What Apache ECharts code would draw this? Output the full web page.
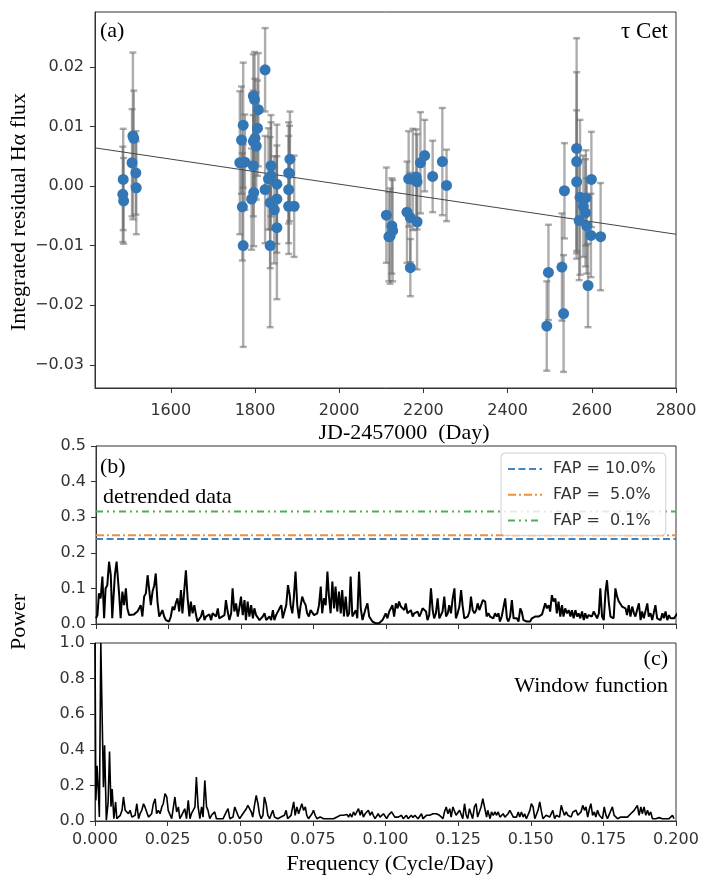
<!DOCTYPE html>
<html>
<head>
<meta charset="utf-8">
<script src="https://cdn.jsdelivr.net/npm/echarts@6/dist/echarts.min.js"></script>
<style>
html,body{margin:0;padding:0;background:#fff;}
#chart{width:712px;height:884px;}
</style>
</head>
<body>
<div id="chart"></div>
<script>
// ---------- Panel (a): integrated residual H-alpha flux ----------
const jd = [
  1486,1488,1487,1508,1510,1512,1517,1518,
  1764,1768,1772,1770,1772,1776,1796,1799,1808,1806,1800,1796,1803,1796,1797,1792,
  1824,1824,1836,1836,1838,1838,1832,1852,1852,1852,1846,1880,1883,1880,1880,1893,1882,
  2112,2121,2125,2118,2127,2161,2169,2185,2169,2165,2175,2185,2183,2193,2203,2222,2245,2255,
  2493,2497,2529,2533,2535,2564,2564,2564,2572,2586,2570,2580,2585,2588,2591,2598,2599,2621
];
const flux = [
  -0.0014,-0.0025,0.0011,0.0039,0.0084,0.0080,0.0022,-0.0003,
  0.0039,0.0077,0.0102,-0.0035,-0.0100,0.0040,0.0151,0.0145,0.0128,0.0097,0.0080,0.0075,0.0067,0.0034,-0.0011,-0.0022,
  0.0195,-0.0006,-0.0028,-0.0100,0.0034,0.0017,0.0012,0.0003,-0.0022,-0.0070,-0.0040,0.0022,0.0045,-0.0006,-0.0034,-0.0034,0.0021,
  -0.0049,-0.0084,-0.0067,-0.0085,-0.0075,-0.0044,-0.0053,-0.0060,-0.0137,0.0012,0.0011,0.0007,0.0015,0.0039,0.0051,0.0016,0.0041,0.0001,
  -0.0235,-0.0145,-0.0136,-0.0214,-0.0008,0.0063,0.0041,0.0007,-0.0019,-0.0020,-0.0058,-0.0034,-0.0045,-0.0067,-0.0167,-0.0083,0.0011,-0.0085
];
const fluxErr = [
  0.0080,0.0072,0.0085,0.0090,0.0140,0.0080,0.0070,0.0078,
  0.0120,0.0090,0.0105,0.0090,0.0170,0.0080,0.0070,0.0080,0.0095,0.0080,0.0100,0.0085,0.0090,0.0085,0.0090,0.0085,
  0.0070,0.0090,0.0110,0.0137,0.0085,0.0090,0.0085,0.0100,0.0090,0.0120,0.0090,0.0085,0.0080,0.0090,0.0080,0.0085,0.0080,
  0.0080,0.0080,0.0080,0.0075,0.0085,0.0085,0.0075,0.0080,0.0048,0.0080,0.0085,0.0080,0.0080,0.0085,0.0060,0.0060,0.0090,0.0060,
  0.0075,0.0080,0.0090,0.0098,0.0080,0.0185,0.0150,0.0120,0.0130,0.0080,0.0100,0.0085,0.0090,0.0080,0.0070,0.0070,0.0080,0.0090
];
const trendJD = [1420, 2800];
const trendFlux = [0.0064, -0.0081];
const jdTicks = [1600, 1800, 2000, 2200, 2400, 2600, 2800];
const fluxTicks = [-0.03, -0.02, -0.01, 0.00, 0.01, 0.02];

// ---------- Panel (b): periodogram of detrended data ----------
const periodogram = [
[0.0000,0.016],[0.0005,0.025],[0.0010,0.086],[0.0016,0.072],[0.0022,0.133],[0.0028,0.016],[0.0033,0.100],[0.0039,0.109],
[0.0045,0.175],[0.0051,0.137],[0.0056,0.016],[0.0065,0.137],[0.0071,0.175],[0.0080,0.081],[0.0085,0.016],[0.0091,0.091],
[0.0097,0.053],[0.0103,0.100],[0.0108,0.044],[0.0114,0.025],[0.0120,0.025],[0.0131,0.027],[0.0137,0.023],[0.0143,0.035],
[0.0149,0.044],[0.0154,0.053],[0.0160,0.021],[0.0166,0.077],[0.0172,0.086],[0.0178,0.137],[0.0183,0.100],[0.0189,0.053],
[0.0195,0.091],[0.0201,0.109],[0.0206,0.142],[0.0212,0.063],[0.0218,0.021],[0.0224,0.030],[0.0229,0.039],[0.0235,0.021],
[0.0241,0.011],[0.0247,0.016],[0.0252,0.007],[0.0258,0.021],[0.0264,0.049],[0.0270,0.039],[0.0275,0.058],[0.0281,0.072],
[0.0287,0.035],[0.0293,0.095],[0.0298,0.030],[0.0304,0.091],[0.0310,0.151],[0.0316,0.072],[0.0322,0.021],[0.0327,0.063],
[0.0333,0.030],[0.0339,0.053],[0.0345,0.025],[0.0350,0.007],[0.0356,0.011],[0.0362,0.021],[0.0368,0.039],[0.0374,0.011],
[0.0379,0.021],[0.0385,0.016],[0.0391,0.027],[0.0397,0.011],[0.0402,0.030],[0.0408,0.025],[0.0414,0.021],[0.0420,0.044],
[0.0425,0.016],[0.0431,0.011],[0.0443,0.025],[0.0448,0.067],[0.0454,0.035],[0.0460,0.011],[0.0466,0.030],[0.0471,0.100],
[0.0477,0.035],[0.0483,0.058],[0.0489,0.021],[0.0494,0.044],[0.0500,0.077],[0.0506,0.025],[0.0512,0.067],[0.0517,0.011],
[0.0523,0.063],[0.0529,0.021],[0.0535,0.053],[0.0541,0.016],[0.0546,0.044],[0.0552,0.025],[0.0558,0.021],[0.0564,0.011],
[0.0569,0.016],[0.0575,0.021],[0.0581,0.030],[0.0587,0.011],[0.0592,0.016],[0.0598,0.021],[0.0604,0.011],[0.0610,0.039],
[0.0615,0.011],[0.0621,0.025],[0.0627,0.030],[0.0633,0.044],[0.0639,0.053],[0.0644,0.016],[0.0650,0.035],[0.0656,0.053],
[0.0662,0.109],[0.0668,0.081],
[0.0671,0.053],[0.0677,0.030],[0.0682,0.072],[0.0688,0.147],[0.0694,0.053],[0.0700,0.016],[0.0705,0.049],[0.0711,0.077],
[0.0717,0.063],[0.0723,0.053],[0.0728,0.030],[0.0734,0.021],[0.0740,0.039],[0.0746,0.035],[0.0752,0.025],[0.0757,0.021],
[0.0763,0.030],[0.0769,0.053],[0.0775,0.105],[0.0780,0.030],[0.0786,0.072],[0.0792,0.053],[0.0798,0.147],[0.0803,0.081],
[0.0809,0.030],[0.0815,0.119],[0.0821,0.044],[0.0826,0.105],[0.0832,0.035],[0.0838,0.091],[0.0844,0.030],[0.0849,0.095],
[0.0855,0.021],[0.0861,0.077],[0.0867,0.021],[0.0873,0.030],[0.0878,0.133],[0.0884,0.021],[0.0890,0.030],[0.0896,0.039],
[0.0901,0.016],[0.0907,0.147],[0.0913,0.044],[0.0919,0.011],[0.0924,0.016],[0.0930,0.044],[0.0936,0.058],[0.0942,0.021],
[0.0947,0.025],[0.0953,0.007],[0.0959,0.002],[0.0965,0.002],[0.0971,0.002],[0.0976,0.002],[0.0982,0.002],[0.0988,0.011],
[0.0994,0.021],[0.0999,0.030],[0.1005,0.016],[0.1011,0.035],[0.1017,0.044],[0.1022,0.053],[0.1028,0.021],[0.1034,0.058],
[0.1040,0.044],[0.1045,0.063],[0.1051,0.049],[0.1057,0.053],[0.1063,0.039],[0.1068,0.058],[0.1074,0.030],[0.1080,0.025],
[0.1086,0.039],[0.1092,0.021],[0.1097,0.030],[0.1103,0.025],[0.1109,0.035],[0.1115,0.021],[0.1120,0.030],[0.1126,0.044],
[0.1132,0.049],[0.1138,0.035],[0.1143,0.011],[0.1149,0.025],[0.1155,0.100],[0.1161,0.039],[0.1166,0.016],[0.1172,0.030],
[0.1178,0.072],[0.1184,0.016],[0.1190,0.021],[0.1195,0.035],[0.1201,0.077],[0.1207,0.021],[0.1213,0.030],[0.1218,0.053],
[0.1224,0.030],[0.1230,0.072],[0.1236,0.100],[0.1241,0.016],[0.1247,0.030],[0.1253,0.049],[0.1259,0.095],[0.1264,0.053],
[0.1270,0.016],[0.1276,0.011],[0.1282,0.021],[0.1288,0.035],[0.1293,0.077],[0.1299,0.039],[0.1305,0.030],[0.1311,0.039],
[0.1316,0.058],[0.1322,0.039],[0.1328,0.035],[0.1334,0.067],
[0.1342,0.063],[0.1347,0.021],[0.1353,0.030],[0.1359,0.021],[0.1365,0.025],[0.1370,0.016],[0.1376,0.030],[0.1382,0.021],
[0.1388,0.030],[0.1393,0.007],[0.1399,0.021],[0.1405,0.016],[0.1411,0.072],[0.1417,0.016],[0.1422,0.007],[0.1428,0.021],
[0.1434,0.067],[0.1440,0.016],[0.1445,0.011],[0.1451,0.016],[0.1457,0.007],[0.1463,0.044],[0.1468,0.035],[0.1474,0.011],
[0.1480,0.007],[0.1486,0.007],[0.1491,0.011],[0.1497,0.007],[0.1503,0.016],[0.1509,0.011],[0.1514,0.021],[0.1520,0.021],
[0.1526,0.021],[0.1532,0.025],[0.1538,0.027],[0.1543,0.030],[0.1549,0.058],[0.1555,0.044],[0.1561,0.053],[0.1566,0.035],
[0.1572,0.081],[0.1578,0.063],[0.1584,0.072],[0.1589,0.030],[0.1595,0.063],[0.1601,0.021],[0.1607,0.053],[0.1612,0.021],
[0.1618,0.044],[0.1624,0.030],[0.1630,0.039],[0.1636,0.021],[0.1641,0.039],[0.1647,0.016],[0.1653,0.039],[0.1659,0.021],
[0.1664,0.030],[0.1670,0.016],[0.1676,0.035],[0.1682,0.011],[0.1687,0.030],[0.1693,0.016],[0.1699,0.025],[0.1705,0.030],
[0.1710,0.021],[0.1716,0.035],[0.1722,0.039],[0.1728,0.016],[0.1734,0.030],[0.1739,0.100],[0.1745,0.021],[0.1751,0.011],
[0.1757,0.091],[0.1762,0.123],[0.1768,0.063],[0.1774,0.021],[0.1780,0.025],[0.1785,0.016],[0.1791,0.100],[0.1797,0.077],
[0.1803,0.063],[0.1808,0.067],[0.1814,0.049],[0.1820,0.044],[0.1826,0.044],[0.1831,0.025],[0.1837,0.053],[0.1843,0.021],
[0.1849,0.049],[0.1855,0.030],[0.1860,0.021],[0.1866,0.016],[0.1872,0.058],[0.1878,0.011],[0.1883,0.035],[0.1889,0.016],
[0.1895,0.021],[0.1901,0.058],[0.1906,0.021],[0.1912,0.030],[0.1918,0.011],[0.1924,0.016],[0.1929,0.053],[0.1935,0.016],
[0.1941,0.021],[0.1947,0.011],[0.1953,0.030],[0.1958,0.016],[0.1964,0.035],[0.1970,0.011],[0.1976,0.025],[0.1981,0.016],
[0.1987,0.021],[0.1993,0.016],[0.1999,0.021],[0.2005,0.030]
];
const fapLevels = [0.239, 0.249, 0.316];
const fapLabels = ['FAP = 10.0%', 'FAP =  5.0%', 'FAP =  0.1%'];
const powerTicksB = [0, 0.1, 0.2, 0.3, 0.4, 0.5];

// ---------- Panel (c): window function ----------
const windowFunction = [
[0.0000,1.000],[0.0003,0.116],[0.0007,0.310],[0.0012,0.154],[0.0015,0.022],[0.0020,1.000],[0.0025,1.000],[0.0029,0.190],
[0.0033,0.425],[0.0039,0.004],[0.0045,0.100],[0.0050,0.390],[0.0055,0.080],[0.0059,0.180],[0.0065,0.013],[0.0071,0.107],
[0.0075,0.013],[0.0081,0.022],[0.0087,0.032],[0.0093,0.060],[0.0098,0.135],[0.0104,0.060],[0.0110,0.069],[0.0115,0.041],
[0.0121,0.060],[0.0127,0.022],[0.0133,0.013],[0.0138,0.032],[0.0144,0.097],[0.0150,0.013],[0.0155,0.041],[0.0161,0.060],
[0.0167,0.097],[0.0172,0.079],[0.0178,0.051],[0.0184,0.022],[0.0190,0.013],[0.0195,0.041],[0.0201,0.097],[0.0207,0.125],
[0.0212,0.041],[0.0218,0.060],[0.0224,0.041],[0.0230,0.079],[0.0235,0.097],[0.0241,0.154],[0.0247,0.135],[0.0252,0.060],
[0.0258,0.069],[0.0264,0.013],[0.0270,0.079],[0.0275,0.135],[0.0281,0.051],[0.0287,0.079],[0.0292,0.013],[0.0298,0.032],
[0.0304,0.051],[0.0309,0.069],[0.0315,0.013],[0.0321,0.116],[0.0327,0.013],[0.0332,0.041],[0.0338,0.060],[0.0344,0.079],
[0.0349,0.247],[0.0355,0.079],[0.0361,0.013],[0.0367,0.079],[0.0372,0.022],[0.0378,0.228],[0.0384,0.079],[0.0389,0.060],
[0.0395,0.013],[0.0401,0.032],[0.0406,0.041],[0.0412,0.051],[0.0418,0.013],[0.0424,0.022],[0.0429,0.013],[0.0435,0.004],
[0.0441,0.013],[0.0446,0.004],[0.0452,0.051],[0.0458,0.069],[0.0464,0.013],[0.0469,0.004],[0.0475,0.022],[0.0481,0.079],
[0.0486,0.088],[0.0492,0.032],[0.0498,0.013],[0.0503,0.022],[0.0509,0.041],[0.0515,0.051],[0.0521,0.069],[0.0526,0.088],
[0.0532,0.079],[0.0538,0.051],[0.0543,0.022],[0.0549,0.088],[0.0555,0.144],[0.0561,0.097],[0.0566,0.041],[0.0572,0.013],
[0.0578,0.032],[0.0583,0.135],[0.0589,0.097],[0.0595,0.032],[0.0601,0.013],[0.0606,0.022],[0.0612,0.060],[0.0618,0.022],
[0.0623,0.013],[0.0629,0.013],[0.0635,0.013],[0.0640,0.022],[0.0646,0.013],[0.0652,0.032],[0.0658,0.060],[0.0663,0.013],
[0.0669,0.013],[0.0675,0.032],
[0.0678,0.060],[0.0684,0.107],[0.0689,0.032],[0.0695,0.079],[0.0701,0.041],[0.0707,0.051],[0.0712,0.097],[0.0718,0.060],
[0.0724,0.079],[0.0729,0.032],[0.0735,0.013],[0.0741,0.022],[0.0747,0.041],[0.0752,0.060],[0.0758,0.032],[0.0764,0.013],
[0.0770,0.022],[0.0775,0.022],[0.0781,0.032],[0.0787,0.013],[0.0793,0.013],[0.0798,0.013],[0.0804,0.022],[0.0810,0.013],
[0.0815,0.022],[0.0821,0.013],[0.0827,0.013],[0.0833,0.022],[0.0838,0.013],[0.0844,0.032],[0.0850,0.022],[0.0855,0.032],
[0.0861,0.026],[0.0867,0.037],[0.0873,0.022],[0.0878,0.041],[0.0884,0.022],[0.0890,0.051],[0.0895,0.032],[0.0901,0.041],
[0.0907,0.069],[0.0913,0.032],[0.0918,0.060],[0.0924,0.022],[0.0930,0.041],[0.0935,0.051],[0.0941,0.060],[0.0947,0.032],
[0.0953,0.051],[0.0958,0.032],[0.0964,0.013],[0.0970,0.022],[0.0975,0.041],[0.0981,0.022],[0.0987,0.022],[0.0993,0.041],
[0.0998,0.032],[0.1004,0.013],[0.1010,0.032],[0.1015,0.032],[0.1021,0.051],[0.1027,0.060],[0.1032,0.022],[0.1038,0.013],
[0.1044,0.022],[0.1050,0.013],[0.1055,0.032],[0.1061,0.013],[0.1067,0.022],[0.1072,0.032],[0.1078,0.013],[0.1084,0.022],
[0.1089,0.032],[0.1095,0.019],[0.1101,0.032],[0.1107,0.032],[0.1112,0.013],[0.1118,0.022],[0.1124,0.041],[0.1129,0.013],
[0.1135,0.022],[0.1141,0.032],[0.1146,0.022],[0.1152,0.032],[0.1158,0.032],[0.1164,0.041],[0.1169,0.032],[0.1175,0.041],
[0.1181,0.051],[0.1186,0.032],[0.1192,0.022],[0.1198,0.013],[0.1203,0.051],[0.1209,0.079],[0.1215,0.041],[0.1221,0.069],
[0.1226,0.022],[0.1232,0.079],[0.1238,0.069],[0.1243,0.032],[0.1249,0.032],[0.1255,0.060],[0.1260,0.069],[0.1266,0.013],
[0.1272,0.097],[0.1278,0.032],[0.1283,0.013],[0.1289,0.069],[0.1295,0.060],[0.1300,0.013],[0.1306,0.079],[0.1312,0.097],
[0.1317,0.022],[0.1323,0.013],[0.1329,0.079],[0.1335,0.125],
[0.1348,0.022],[0.1352,0.060],[0.1360,0.013],[0.1365,0.051],[0.1371,0.032],[0.1377,0.051],[0.1382,0.032],[0.1388,0.051],
[0.1394,0.022],[0.1400,0.032],[0.1405,0.041],[0.1411,0.022],[0.1417,0.032],[0.1422,0.041],[0.1428,0.060],[0.1434,0.041],
[0.1440,0.022],[0.1445,0.013],[0.1451,0.022],[0.1457,0.051],[0.1462,0.022],[0.1468,0.051],[0.1474,0.022],[0.1479,0.041],
[0.1485,0.013],[0.1491,0.013],[0.1497,0.060],[0.1502,0.097],[0.1508,0.079],[0.1514,0.013],[0.1519,0.022],[0.1525,0.060],
[0.1531,0.107],[0.1536,0.060],[0.1542,0.013],[0.1548,0.022],[0.1553,0.032],[0.1559,0.041],[0.1565,0.022],[0.1571,0.022],
[0.1576,0.060],[0.1582,0.013],[0.1588,0.032],[0.1593,0.041],[0.1599,0.022],[0.1605,0.088],[0.1610,0.060],[0.1616,0.032],
[0.1622,0.051],[0.1628,0.032],[0.1633,0.041],[0.1639,0.022],[0.1645,0.051],[0.1650,0.041],[0.1656,0.060],[0.1662,0.032],
[0.1667,0.022],[0.1673,0.051],[0.1679,0.088],[0.1685,0.060],[0.1690,0.079],[0.1696,0.022],[0.1702,0.069],[0.1707,0.097],
[0.1713,0.032],[0.1719,0.051],[0.1724,0.022],[0.1730,0.060],[0.1736,0.032],[0.1742,0.022],[0.1747,0.013],[0.1753,0.079],
[0.1759,0.032],[0.1764,0.013],[0.1770,0.022],[0.1776,0.060],[0.1781,0.079],[0.1787,0.032],[0.1793,0.022],[0.1799,0.013],
[0.1804,0.013],[0.1810,0.022],[0.1816,0.013],[0.1821,0.022],[0.1827,0.013],[0.1833,0.022],[0.1838,0.032],[0.1844,0.041],
[0.1850,0.032],[0.1856,0.060],[0.1861,0.069],[0.1867,0.088],[0.1873,0.032],[0.1879,0.079],[0.1884,0.041],[0.1890,0.079],
[0.1896,0.032],[0.1902,0.060],[0.1907,0.032],[0.1913,0.051],[0.1919,0.013],[0.1925,0.022],[0.1930,0.013],[0.1936,0.019],
[0.1942,0.019],[0.1947,0.013],[0.1953,0.013],[0.1959,0.019],[0.1965,0.013],[0.1970,0.019],[0.1976,0.013],[0.1982,0.022],
[0.1988,0.032],[0.1993,0.013]
];
const freqTicks = [0, 0.025, 0.05, 0.075, 0.1, 0.125, 0.15, 0.175, 0.2];
const powerTicksC = [0, 0.2, 0.4, 0.6, 0.8, 1.0];

// ---------- styling ----------
const SANS = "'DejaVu Sans', sans-serif";
const SERIF = "'Liberation Serif', 'Times New Roman', serif";
const AX = '#333';
const fapColors = ['#3f86c6', '#f28f3b', '#4fae4f'];
const fapDash = [[7, 3.5], [8, 3, 2, 3], [7, 4, 2, 4, 2, 4]];
const tickLabel = {color: '#333', fontFamily: SANS, fontSize: 16};
const fmtFixed = d => v => v.toFixed(d).replace('-', '\u2212');

function baseAxis(extra) {
  return Object.assign({
    type: 'value',
    splitLine: {show: false},
    axisLine: {show: true, onZero: false, lineStyle: {color: AX, width: 1}}
  }, extra);
}

const chart = echarts.init(document.getElementById('chart'), null, {renderer: 'canvas'});

const option = {
  animation: false,
  backgroundColor: '#fff',
  grid: [
    {left: 95, top: 12, width: 581, height: 376, show: true, borderColor: AX, borderWidth: 1, containLabel: false},
    {left: 96, top: 446, width: 580, height: 178, show: true, borderColor: AX, borderWidth: 1, containLabel: false},
    {left: 95, top: 643, width: 581, height: 178, show: true, borderColor: AX, borderWidth: 1, containLabel: false}
  ],
  xAxis: [
    baseAxis({gridIndex: 0, min: 1420, max: 2800,
      axisTick: {show: true, length: 5, customValues: jdTicks, lineStyle: {color: AX}},
      axisLabel: Object.assign({customValues: jdTicks, margin: 15, formatter: v => String(Math.round(v))}, tickLabel)}),
    baseAxis({gridIndex: 1, min: 0, max: 0.2,
      axisTick: {show: true, length: 5, customValues: freqTicks, lineStyle: {color: AX}},
      axisLabel: {show: false}}),
    baseAxis({gridIndex: 2, min: 0, max: 0.2,
      axisTick: {show: true, length: 5, customValues: freqTicks, lineStyle: {color: AX}},
      axisLabel: Object.assign({customValues: freqTicks, margin: 11, formatter: fmtFixed(3)}, tickLabel)})
  ],
  yAxis: [
    baseAxis({gridIndex: 0, min: -0.0339, max: 0.0292,
      axisTick: {show: true, length: 5, customValues: fluxTicks, lineStyle: {color: AX}},
      axisLabel: Object.assign({customValues: fluxTicks, margin: 11, formatter: fmtFixed(2)}, tickLabel)}),
    baseAxis({gridIndex: 1, min: 0, max: 0.5,
      axisTick: {show: true, length: 5, customValues: powerTicksB, lineStyle: {color: AX}},
      axisLabel: Object.assign({customValues: powerTicksB, margin: 10, formatter: fmtFixed(1)}, tickLabel)}),
    baseAxis({gridIndex: 2, min: 0, max: 1.0,
      axisTick: {show: true, length: 5, customValues: powerTicksC, lineStyle: {color: AX}},
      axisLabel: Object.assign({customValues: powerTicksC, margin: 10, formatter: fmtFixed(1)}, tickLabel)})
  ],
  legend: {
    show: true,
    data: fapLabels,
    orient: 'vertical',
    left: 501, top: 453,
    padding: [8, 10, 7, 6],
    itemWidth: 34, itemHeight: 14, itemGap: 9.7,
    backgroundColor: 'rgba(255,255,255,0.82)',
    borderColor: '#d0d0d0', borderWidth: 1, borderRadius: 4,
    itemStyle: {opacity: 0},
    textStyle: {color: '#333', fontFamily: SANS, fontSize: 16, padding: [0, 0, 0, 6]},
    selectedMode: false
  },
  series: [
    {
      type: 'custom', xAxisIndex: 0, yAxisIndex: 0, z: 2,
      data: jd.map((d, i) => [d, flux[i], fluxErr[i]]),
      encode: {x: 0, y: 1},
      renderItem: function (params, api) {
        const x = api.value(0), y = api.value(1), e = api.value(2);
        const t = api.coord([x, y + e]);
        const b = api.coord([x, y - e]);
        const st = {stroke: 'rgba(105,105,105,0.55)', lineWidth: 2.4};
        const hw = 3.5;
        return {type: 'group', children: [
          {type: 'line', shape: {x1: t[0], y1: t[1], x2: b[0], y2: b[1]}, style: st},
          {type: 'line', shape: {x1: t[0] - hw, y1: t[1], x2: t[0] + hw, y2: t[1]}, style: st},
          {type: 'line', shape: {x1: b[0] - hw, y1: b[1], x2: b[0] + hw, y2: b[1]}, style: st}
        ]};
      }
    },
    {
      type: 'line', xAxisIndex: 0, yAxisIndex: 0, z: 3,
      data: trendJD.map((d, i) => [d, trendFlux[i]]),
      showSymbol: false, symbol: 'none', lineStyle: {color: '#444', width: 1}, silent: true
    },
    {
      type: 'scatter', xAxisIndex: 0, yAxisIndex: 0, z: 4,
      data: jd.map((d, i) => [d, flux[i]]),
      symbol: 'circle', symbolSize: 11,
      itemStyle: {color: '#3276b5', opacity: 1}
    },
    ...fapLevels.map((lv, i) => ({
      name: fapLabels[i],
      type: 'line', xAxisIndex: 1, yAxisIndex: 1, z: 3,
      data: [[0, lv], [0.2, lv]],
      showSymbol: false, symbol: 'none',
      lineStyle: {color: fapColors[i], width: 2, type: fapDash[i]},
      itemStyle: {color: fapColors[i]}
    })),
    {
      type: 'line', xAxisIndex: 1, yAxisIndex: 1, z: 5,
      data: periodogram, showSymbol: false, symbol: 'none',
      lineStyle: {color: '#000', width: 2}, clip: true
    },
    {
      type: 'line', xAxisIndex: 2, yAxisIndex: 2, z: 5,
      data: windowFunction, showSymbol: false, symbol: 'none',
      lineStyle: {color: '#000', width: 1.6}, clip: true
    }
  ],
  graphic: [
    {type: 'text', left: 100, top: 20, style: {text: '(a)', font: '22px ' + SERIF, fill: '#000'}},
    {type: 'text', right: 44, top: 20, style: {text: '\u03c4 Cet', font: '23px ' + SERIF, fill: '#000'}},
    {type: 'text', x: 19, y: 212, rotation: Math.PI / 2,
      style: {text: 'Integrated residual H\u03b1 flux', font: '22px ' + SERIF, fill: '#000', align: 'center', verticalAlign: 'middle'}},
    {type: 'text', x: 404, y: 433,
      style: {text: 'JD-2457000  (Day)', font: '22px ' + SERIF, fill: '#000', align: 'center', verticalAlign: 'middle'}},
    {type: 'text', left: 100, top: 456, style: {text: '(b)', font: '22px ' + SERIF, fill: '#000'}},
    {type: 'text', left: 103, top: 486, style: {text: 'detrended data', font: '22px ' + SERIF, fill: '#000'}},
    {type: 'text', x: 19, y: 622, rotation: Math.PI / 2,
      style: {text: 'Power', font: '22px ' + SERIF, fill: '#000', align: 'center', verticalAlign: 'middle'}},
    {type: 'text', right: 44, top: 648, style: {text: '(c)', font: '22px ' + SERIF, fill: '#000'}},
    {type: 'text', right: 44, top: 675, style: {text: 'Window function', font: '22px ' + SERIF, fill: '#000'}},
    {type: 'text', x: 390, y: 864,
      style: {text: 'Frequency (Cycle/Day)', font: '22px ' + SERIF, fill: '#000', align: 'center', verticalAlign: 'middle'}}
  ]
};
chart.setOption(option);
</script>
</body>
</html>
